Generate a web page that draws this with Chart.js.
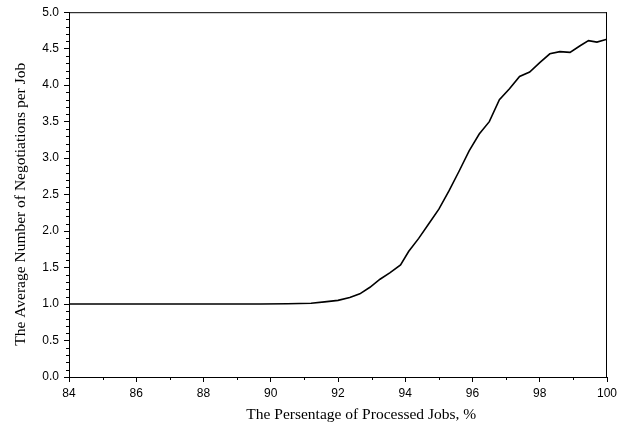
<!DOCTYPE html>
<html>
<head>
<meta charset="utf-8">
<script src="https://cdn.jsdelivr.net/npm/chart.js@4/dist/chart.umd.min.js"></script>
<style>
html,body{margin:0;padding:0;background:#fff;}
#wrap{width:629px;height:428px;position:relative;}
</style>
</head>
<body>
<div id="wrap"><canvas id="c" width="629" height="428"></canvas></div>
<script>
const xValues = [84, 86, 88, 89.7, 90.5, 91.2, 91.6, 92.0, 92.35, 92.65, 92.95, 93.25, 93.55, 93.86, 94.1, 94.4, 94.7, 95.0, 95.3, 95.6, 95.9, 96.2, 96.5, 96.8, 97.1, 97.4, 97.7, 98.0, 98.3, 98.6, 98.9, 99.2, 99.45, 99.7, 100];
const yValues = [1.0, 1.0, 1.0, 1.0, 1.005, 1.01, 1.03, 1.05, 1.09, 1.14, 1.23, 1.34, 1.43, 1.535, 1.72, 1.9, 2.1, 2.3, 2.55, 2.82, 3.1, 3.33, 3.5, 3.8, 3.95, 4.12, 4.18, 4.31, 4.43, 4.46, 4.45, 4.54, 4.61, 4.59, 4.63];
const xTitle = "            The Persentage of Processed Jobs, %";
const yTitle = "The Average Number of Negotiations per Job     ";
const xMinorTicks = [85, 87, 89, 91, 93, 95, 97, 99];
const yMinorTicks = [];
for (let i = 0; i <= 50; i++) { if (i % 5 !== 0) yMinorTicks.push(i / 10); }

const points = xValues.map((x, i) => ({x: x, y: yValues[i]}));

const frameAndMinor = {
  id: 'frameAndMinor',
  afterDraw(chart) {
    const ctx = chart.ctx, a = chart.chartArea;
    const xs = chart.scales.x, ys = chart.scales.y;
    ctx.save();
    ctx.strokeStyle = '#000';
    ctx.lineWidth = 1;
    ctx.beginPath();
    ctx.moveTo(a.left, a.top + 0.5); ctx.lineTo(a.right, a.top + 0.5);
    ctx.moveTo(a.right - 0.5, a.top); ctx.lineTo(a.right - 0.5, a.bottom);
    xMinorTicks.forEach(v => {
      const px = Math.round(xs.getPixelForValue(v)) + 0.5;
      ctx.moveTo(px, a.bottom); ctx.lineTo(px, a.bottom + 3);
    });
    yMinorTicks.forEach(v => {
      const py = Math.round(ys.getPixelForValue(v)) + 0.5;
      ctx.moveTo(a.left, py); ctx.lineTo(a.left - 3, py);
    });
    ctx.stroke();
    ctx.restore();
  }
};

new Chart(document.getElementById('c'), {
  type: 'line',
  data: {
    datasets: [{
      data: points,
      borderColor: '#000',
      borderWidth: 1.6,
      pointRadius: 0,
      tension: 0,
      fill: false
    }]
  },
  options: {
    responsive: false,
    animation: false,
    layout: {padding: {top: 9, right: 22, left: 0, bottom: 0}},
    plugins: {legend: {display: false}, tooltip: {enabled: false}},
    scales: {
      x: {
        type: 'linear', min: 84, max: 100,
        ticks: {stepSize: 2, color: '#000', padding: 4, font: {family: 'Liberation Sans', size: 12}},
        grid: {drawOnChartArea: false, drawTicks: true, tickLength: 5, tickColor: '#000'},
        border: {color: '#000', width: 1},
        title: {display: true, text: xTitle, color: '#000', font: {family: 'Liberation Serif', size: 15.5}, padding: {top: 4, bottom: 4}},
        afterFit(s) { s.height = 51; }
      },
      y: {
        type: 'linear', min: 0, max: 5,
        ticks: {stepSize: 0.5, color: '#000', padding: 5, font: {family: 'Liberation Sans', size: 12}, callback: v => v.toFixed(1)},
        grid: {drawOnChartArea: false, drawTicks: true, tickLength: 5, tickColor: '#000'},
        border: {color: '#000', width: 1},
        title: {display: true, text: yTitle, color: '#000', font: {family: 'Liberation Serif', size: 15.5}, padding: {top: 12, bottom: 4}},
        afterFit(s) { s.width = 69; }
      }
    }
  },
  plugins: [frameAndMinor]
});
</script>
</body>
</html>
